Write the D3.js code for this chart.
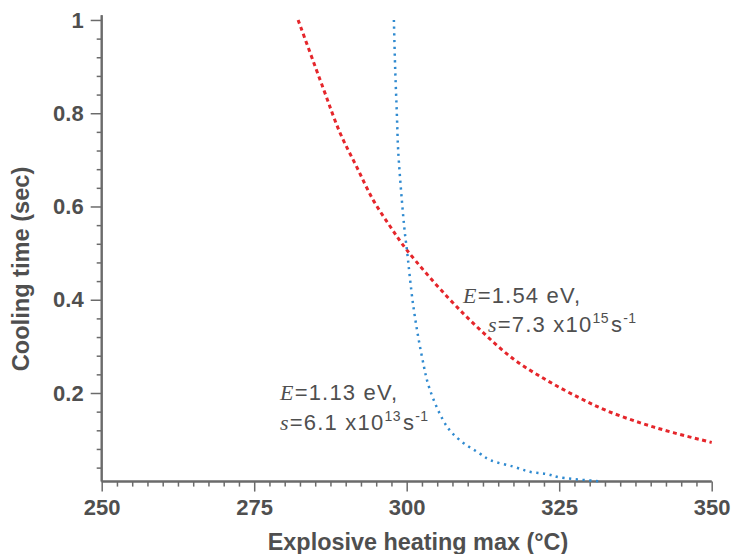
<!DOCTYPE html>
<html>
<head>
<meta charset="utf-8">
<script src="https://cdn.jsdelivr.net/npm/d3@7"></script>
<style>
  html, body { margin: 0; padding: 0; background: #fff; }
  svg { display: block; }
  text { font-family: "Liberation Sans", Arial, Helvetica, sans-serif; }
</style>
</head>
<body>
<svg id="chart" width="733" height="554"></svg>
<script>
// ---- data ----
const xMajorTicks = [250, 275, 300, 325, 350];
const xTickLabels = ["250", "275", "300", "325", "350"];
const yMajorTicks = [0.2, 0.4, 0.6, 0.8, 1];
const yTickLabels = ["0.2", "0.4", "0.6", "0.8", "1"];

// E = 1.54 eV, s = 7.3e15 (red dashed)
const redT = [282.2, 286.3, 289.1, 291.8, 294.5, 297.3, 300.0, 306.6, 312.0, 317.5, 323.0, 328.4, 332.8, 338.3, 343.7, 350.0];
const redTime = [1.0, 0.854, 0.757, 0.685, 0.614, 0.557, 0.507, 0.407, 0.336, 0.273, 0.227, 0.189, 0.162, 0.136, 0.115, 0.094];

// E = 1.13 eV, s = 6.1e13 (blue dotted)
const blueT = [297.9, 298.1, 298.4, 298.6, 299.2, 299.7, 300.0, 301.1, 302.5, 303.8, 306.6, 308.7, 312.0, 313.7, 317.5, 320.2, 323.0, 325.1, 331.4];
const blueTime = [1.0, 0.900, 0.793, 0.721, 0.614, 0.543, 0.511, 0.385, 0.278, 0.207, 0.128, 0.099, 0.070, 0.056, 0.042, 0.031, 0.026, 0.019, 0.011];

const xTitle = "Explosive heating max (\u00B0C)";
const yTitle = "Cooling time (sec)";

// ---- layout ----
const svg = d3.select("#chart");
const pL = 101.7, pR = 711.7, pT = 15.3, pB = 481.6;
const x = d3.scaleLinear().domain([250, 350]).range([pL, pR]);
const y = d3.scaleLinear().domain([0.01, 1.01]).range([pB, pT]);

const axisColor = "#6b6b6b";
const textColor = "#4f4f4f";
const tickFont = 22;

// minor ticks
const xMinor = d3.range(250, 350.001, 2.5).filter(v => !xMajorTicks.includes(v));
const yMinor = d3.range(0.04, 1.0001, 0.04).map(v => +v.toFixed(2)).filter(v => !yMajorTicks.some(m => Math.abs(m - v) < 1e-6));

const gx = svg.append("g").attr("transform", `translate(0,${pB})`);
gx.call(d3.axisBottom(x).tickValues(xMinor).tickSize(5).tickFormat(""));
const gx2 = svg.append("g").attr("transform", `translate(0,${pB})`);
gx2.call(d3.axisBottom(x).tickValues(xMajorTicks).tickSize(10).tickPadding(8)
  .tickFormat((d, i) => xTickLabels[i]));
[gx, gx2].forEach(g => {
  g.select(".domain").attr("stroke", axisColor).attr("stroke-width", 2).attr("d", `M${pL},0H${pR}`);
  g.selectAll(".tick line").attr("stroke", axisColor).attr("stroke-width", 1.5);
});
gx2.selectAll(".tick text").attr("fill", textColor).attr("font-size", tickFont).attr("font-weight", "bold")
  .attr("font-family", "'Liberation Sans', Arial, sans-serif");

const gy = svg.append("g").attr("transform", `translate(${pL},0)`);
gy.call(d3.axisLeft(y).tickValues(yMinor).tickSize(5).tickFormat(""));
const gy2 = svg.append("g").attr("transform", `translate(${pL},0)`);
gy2.call(d3.axisLeft(y).tickValues(yMajorTicks).tickSize(11).tickPadding(7)
  .tickFormat((d, i) => yTickLabels[i]));
[gy, gy2].forEach(g => {
  g.select(".domain").attr("stroke", axisColor).attr("stroke-width", 2).attr("d", `M0,${pT}V${pB}`);
  g.selectAll(".tick line").attr("stroke", axisColor).attr("stroke-width", 1.5);
});
gy2.selectAll(".tick text").attr("fill", textColor).attr("font-size", tickFont).attr("font-weight", "bold")
  .attr("font-family", "'Liberation Sans', Arial, sans-serif");

// axis titles
svg.append("text").attr("x", 418).attr("y", 550).attr("text-anchor", "middle")
  .attr("fill", textColor).attr("font-size", 23.4).attr("font-weight", "bold").text(xTitle);
svg.append("text").attr("transform", "translate(29,269) rotate(-90)").attr("text-anchor", "middle")
  .attr("fill", textColor).attr("font-size", 23.6).attr("font-weight", "bold").text(yTitle);

// curves
const line = d3.line().x(d => x(d[0])).y(d => y(d[1])).curve(d3.curveCatmullRom.alpha(0.5));
svg.append("path").datum(redT.map((t, i) => [t, redTime[i]]))
  .attr("d", line).attr("fill", "none").attr("stroke", "#e5262b").attr("stroke-width", 3)
  .attr("stroke-dasharray", "4,3.5");
svg.append("path").datum(blueT.map((t, i) => [t, blueTime[i]]))
  .attr("d", line).attr("fill", "none").attr("stroke", "#2f8ad0").attr("stroke-width", 2.5)
  .attr("stroke-dasharray", "2.2,4.5");

// annotations
function annot(x0, y0, x1, y1, eVal, sMant, sExp) {
  const t1 = svg.append("text").attr("x", x0).attr("y", y0).attr("fill", textColor)
    .attr("font-size", 22).attr("letter-spacing", 1.2);
  t1.append("tspan").attr("font-family", "'Liberation Serif', 'Times New Roman', serif").attr("font-style", "italic").text("E");
  t1.append("tspan").text(`=${eVal} eV,`);
  const t2 = svg.append("text").attr("x", x1).attr("y", y1).attr("fill", textColor)
    .attr("font-size", 22).attr("letter-spacing", 1.2);
  t2.append("tspan").attr("font-family", "'Liberation Serif', 'Times New Roman', serif").attr("font-style", "italic").text("s");
  t2.append("tspan").text(`=${sMant} x10`);
  t2.append("tspan").attr("font-size", 14).attr("dy", -9).attr("letter-spacing", 0.5).text(sExp);
  t2.append("tspan").attr("dy", 9).attr("dx", 2).text("s");
  t2.append("tspan").attr("font-size", 14).attr("dy", -9).attr("letter-spacing", 0.5).text("-1");
}
annot(463, 303, 488, 332, "1.54", "7.3", "15");
annot(280, 400, 280, 430, "1.13", "6.1", "13");
</script>
</body>
</html>
